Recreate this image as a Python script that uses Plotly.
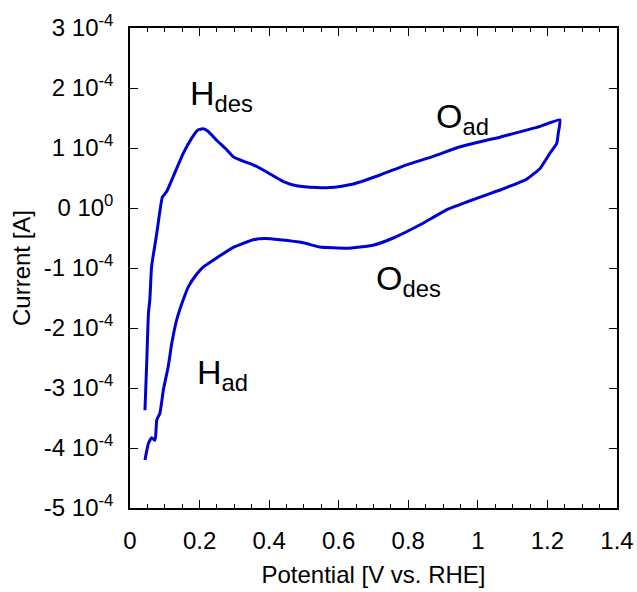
import plotly.graph_objects as go

# Anodic sweep (potential V, current in 1e-4 A)
v_anodic = [0.043, 0.048, 0.053, 0.057, 0.062, 0.077, 0.093, 0.105, 0.124, 0.153, 0.177, 0.195,
            0.210, 0.224, 0.249, 0.273, 0.297, 0.325, 0.354, 0.393, 0.441, 0.479, 0.537, 0.575,
            0.604, 0.642, 0.719, 0.795, 0.872, 0.949, 1.025, 1.064, 1.102, 1.179, 1.236]
i_anodic = [-3.37, -2.59, -1.75, -1.53, -0.98, -0.42, 0.18, 0.27, 0.52, 0.91, 1.16, 1.30,
            1.32, 1.28, 1.13, 1.00, 0.855, 0.78, 0.72, 0.60, 0.44, 0.37, 0.34, 0.34,
            0.36, 0.40, 0.55, 0.72, 0.86, 1.02, 1.13, 1.18, 1.24, 1.36, 1.47]
# Cathodic sweep
v_cathodic = [1.231, 1.227, 1.207, 1.179, 1.140, 1.064, 1.025, 0.968, 0.910, 0.834, 0.757, 0.699,
              0.623, 0.546, 0.498, 0.431, 0.388, 0.354, 0.296, 0.239, 0.211, 0.192, 0.168, 0.153,
              0.134, 0.120, 0.110, 0.096, 0.086, 0.077, 0.072, 0.062, 0.053, 0.043]
i_cathodic = [1.24, 1.08, 0.91, 0.66, 0.48, 0.30, 0.22, 0.10, -0.03, -0.28, -0.50, -0.62,
              -0.67, -0.65, -0.58, -0.53, -0.51, -0.53, -0.66, -0.87, -0.98, -1.10, -1.31, -1.53,
              -1.87, -2.26, -2.64, -3.03, -3.42, -3.53, -3.87, -3.83, -3.92, -4.20]

y_tickvals = [3, 2, 1, 0, -1, -2, -3, -4, -5]
y_ticktext = ["3 10<sup>-4</sup>", "2 10<sup>-4</sup>", "1 10<sup>-4</sup>", "0 10<sup>0</sup>",
              "-1 10<sup>-4</sup>", "-2 10<sup>-4</sup>", "-3 10<sup>-4</sup>", "-4 10<sup>-4</sup>",
              "-5 10<sup>-4</sup>"]
x_tickvals = [0, 0.2, 0.4, 0.6, 0.8, 1.0, 1.2, 1.4]
x_ticktext = ["0", "0.2", "0.4", "0.6", "0.8", "1", "1.2", "1.4"]

labels = ["H<sub>des</sub>", "O<sub>ad</sub>", "O<sub>des</sub>", "H<sub>ad</sub>"]
label_x = [0.262, 0.955, 0.800, 0.266]
label_y = [1.88, 1.50, -1.2, -2.77]

v_all = v_anodic + v_cathodic
i_all = i_anodic + i_cathodic

FONT = "Liberation Sans, Arial"

fig = go.Figure()
fig.add_trace(go.Scatter(x=v_all, y=i_all, mode="lines",
                         line=dict(color="#0000d0", width=3, shape="spline", smoothing=0.4),
                         showlegend=False))

for t, x, y in zip(labels, label_x, label_y):
    fig.add_annotation(x=x, y=y, text=t, showarrow=False, xanchor="center", yanchor="middle",
                       font=dict(size=34, color="black", family=FONT))

axis_common = dict(showgrid=False, zeroline=False, showline=True, linecolor="black", linewidth=1.5,
                   mirror="allticks", ticks="inside", ticklen=8, tickwidth=1, tickcolor="black",
                   ticklabelstandoff=10, automargin=False,
                   tickfont=dict(size=24, color="black", family=FONT))

fig.update_xaxes(range=[0, 1.4], tickvals=x_tickvals, ticktext=x_ticktext,
                 minor=dict(ticks="inside", ticklen=4, dtick=0.05, tickcolor="black", tickwidth=1),
                 title=dict(text="Potential [V vs. RHE]", font=dict(size=24, color="black",
                            family=FONT), standoff=14),
                 **axis_common)
fig.update_yaxes(range=[-5, 3], tickvals=y_tickvals, ticktext=y_ticktext,
                 title=dict(text="Current [A]", font=dict(size=24, color="black",
                            family=FONT), standoff=6),
                 **axis_common)

fig.update_layout(width=637, height=592, margin=dict(l=130, r=20, t=28, b=84),
                  plot_bgcolor="white", paper_bgcolor="white")

fig.write_html("out.html")
